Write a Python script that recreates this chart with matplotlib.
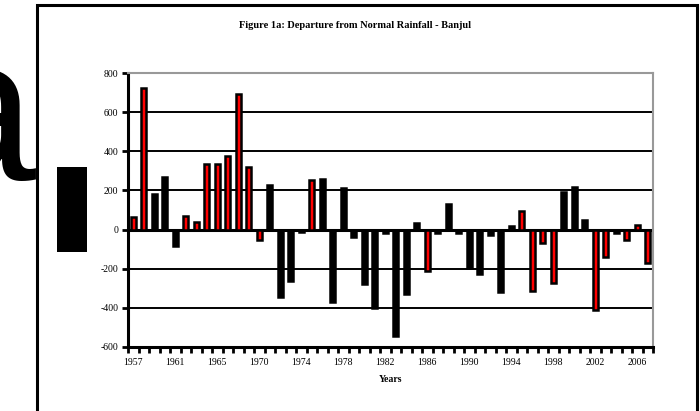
import numpy as np
import matplotlib.pyplot as plt
from matplotlib.patches import Rectangle

# rainfall departure from normal, Banjul (1969 absent from the series)
years = list(range(1957, 1969)) + list(range(1970, 2008))
departure = [65, 725, 180, 270, -85, 70, 40, 335, 335, 375,
             695, 320, -55, 230, -345, -265, -10, 255, 258, -370,
             210, -40, -280, -400, -15, -545, -330, 35, -210, -15,
             130, -20, -195, -225, -30, -320, 20, 95, -315, -70,
             -275, 190, 215, 50, -410, -140, -20, -55, 25, -170]
red_bar = [1, 1, 0, 0, 0, 1, 1, 1, 1, 1,
           1, 1, 1, 0, 0, 0, 0, 1, 0, 0,
           0, 0, 0, 0, 0, 0, 0, 0, 1, 0,
           0, 0, 0, 0, 0, 0, 0, 1, 1, 1,
           1, 0, 0, 0, 1, 1, 0, 1, 1, 1]
yticks = [-600, -400, -200, 0, 200, 400, 600, 800]

plt.rcParams['font.family'] = ['Liberation Serif', 'DejaVu Serif']

fig = plt.figure(figsize=(7, 4.11), dpi=100)
ax = fig.add_axes([128/700, 1-347/411, (653-128)/700, (347-73)/411])

x = np.arange(len(years))
vals = np.array(departure)
cols = ['red' if r else 'black' for r in red_bar]

for v in yticks:
    if v in (-600, 800):
        continue
    ax.axhline(v, color='black', lw=2.2 if v == 0 else 1.4, zorder=1)

# dark depth behind each bar, then the front face
ax.bar(x + 0.1, vals, width=0.45, color='black', zorder=2)
ax.bar(x, vals, width=0.45, color=cols, edgecolor='black', linewidth=1.8, zorder=3)

ax.set_xlim(-0.5, len(years) - 0.5)
ax.set_ylim(-600, 800)
ax.set_yticks(yticks)
ax.set_yticklabels([str(v) for v in yticks], fontsize=7)
ax.set_xticks(x[::4])
ax.set_xticklabels([str(years[i]) for i in x[::4]], fontsize=7)
ax.set_xticks(np.arange(len(years) + 1) - 0.5, minor=True)
ax.tick_params(axis='x', which='major', length=0, pad=8)
ax.tick_params(axis='x', which='minor', length=4, width=2, direction='out')
ax.tick_params(axis='y', length=4, width=2, direction='out', pad=3)

for s in ('left', 'bottom'):
    ax.spines[s].set_linewidth(2.2)
    ax.spines[s].set_color('black')
for s in ('top', 'right'):
    ax.spines[s].set_linewidth(1.5)
    ax.spines[s].set_color('#999999')

ax.set_xlabel('Years', fontsize=7, fontweight='bold', labelpad=6)
fig.text(355/700, 1-25/411, 'Figure 1a: Departure from Normal Rainfall - Banjul',
         ha='center', va='center', fontsize=7.5, fontweight='bold')

# page frame and stray page fragments
fig.add_artist(Rectangle((37/700, -0.02), (697-37)/700, 1.02-5/411,
                         transform=fig.transFigure, fill=False, lw=2.2, ec='black'))
fig.text(35/700, 1-180/411, 'a', ha='right', va='baseline', fontsize=150,
         family='Liberation Sans')
fig.add_artist(Rectangle((57/700, 1-252/411), 30/700, 85/411,
                         transform=fig.transFigure, color='black', lw=0))

fig.savefig('out.png', dpi=100)
